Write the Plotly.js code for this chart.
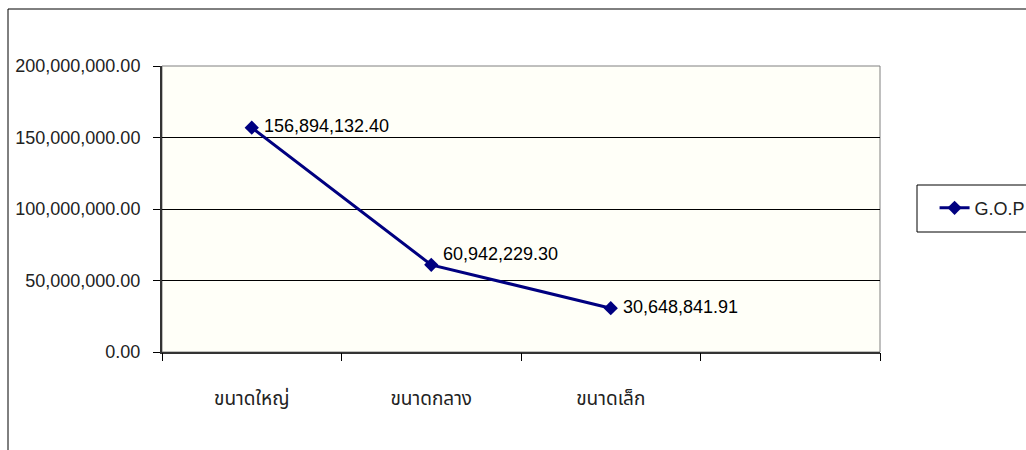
<!DOCTYPE html>
<html><head><meta charset="utf-8">
<script src="https://cdn.plot.ly/plotly-3.0.1.min.js"></script>
<style>html,body{margin:0;padding:0;background:#fff}#c{width:1026px;height:450px}</style>
</head><body><div id="c"></div>
<script>
const categories = ['ขนาดใหญ่', 'ขนาดกลาง', 'ขนาดเล็ก'];
const gopValues = [156894132.40, 60942229.30, 30648841.91];
const valueLabels = ['156,894,132.40', '60,942,229.30', '30,648,841.91'];
const seriesName = 'G.O.P';
const yTicks = [0, 50000000, 100000000, 150000000, 200000000];

const xPos = categories.map((_, i) => i + 1);
const FONT = 'Liberation Sans, Arial, sans-serif';
const labelYShift = [2, 11, 1];

const trace = {
  x: xPos, y: gopValues, name: seriesName,
  type: 'scatter', mode: 'lines+markers',
  line: {color: '#000080', width: 3},
  marker: {symbol: 'diamond', size: 11, color: '#000080'},
  cliponaxis: false
};
const dummy = {x: [1], y: [null], xaxis: 'x2', showlegend: false, hoverinfo: 'skip', type: 'scatter'};

const annotations = xPos.map((x, i) => ({
  x: x, y: gopValues[i], xref: 'x', yref: 'y', text: valueLabels[i],
  showarrow: false, xanchor: 'left', yanchor: 'middle', xshift: 10, yshift: labelYShift[i],
  font: {family: FONT, size: 18, color: '#000'}
}));

const layout = {
  width: 1026, height: 450,
  margin: {l: 162, r: 146, t: 66, b: 98, autoexpand: false},
  paper_bgcolor: '#ffffff', plot_bgcolor: '#fffff8',
  font: {family: FONT, size: 18, color: '#222'},
  showlegend: true,
  legend: {x: 1.076, y: 0.503, xanchor: 'left', yanchor: 'middle',
    bgcolor: 'rgba(0,0,0,0)', borderwidth: 0,
    font: {family: FONT, size: 18, color: '#222'}},
  xaxis: {range: [0.5, 4.5], tickvals: xPos, ticktext: categories,
    ticks: '', showgrid: false, zeroline: false, showline: true, automargin: false,
    linecolor: '#333', linewidth: 2, ticklabelstandoff: 28,
    tickfont: {family: 'Liberation Sans, Noto Sans Thai, Noto Sans, sans-serif', size: 19, color: '#222'},
    fixedrange: true},
  xaxis2: {overlaying: 'x', range: [0.5, 4.5], tickvals: [0.5, 1.5, 2.5, 3.5, 4.5],
    ticktext: ['', '', '', '', ''], ticks: 'outside', ticklen: 8, tickcolor: '#000',
    showgrid: false, zeroline: false, showline: false, side: 'bottom', automargin: false},
  yaxis: {range: [0, 200000000], tickvals: yTicks, tickformat: ',.2f',
    ticks: 'outside', ticklen: 7, tickcolor: '#000', ticklabelstandoff: 9,
    showgrid: true, gridcolor: '#000', gridwidth: 1, zeroline: false, automargin: false,
    showline: true, linecolor: '#333', linewidth: 2,
    tickfont: {family: FONT, size: 18, color: '#222'}},
  annotations: annotations,
  shapes: [
    {type: 'rect', xref: 'paper', yref: 'paper', x0: 0, x1: 1, y0: 0, y1: 1,
     line: {color: '#808080', width: 1}, layer: 'below'},
    {type: 'rect', xref: 'paper', yref: 'paper', x0: (917-162)/718, x1: (1040-162)/718,
     y0: (352-232)/286, y1: (352-185)/286,
     line: {color: '#000', width: 1}, fillcolor: 'rgba(0,0,0,0)'},
    {type: 'rect', xref: 'paper', yref: 'paper', x0: (8-162)/718, x1: 1.25, y0: -0.4, y1: (352-9)/286,
     line: {color: '#000', width: 1}, fillcolor: 'rgba(0,0,0,0)'}
  ]
};
Plotly.newPlot('c', [trace, dummy], layout, {displayModeBar: false, staticPlot: true});
</script></body></html>
